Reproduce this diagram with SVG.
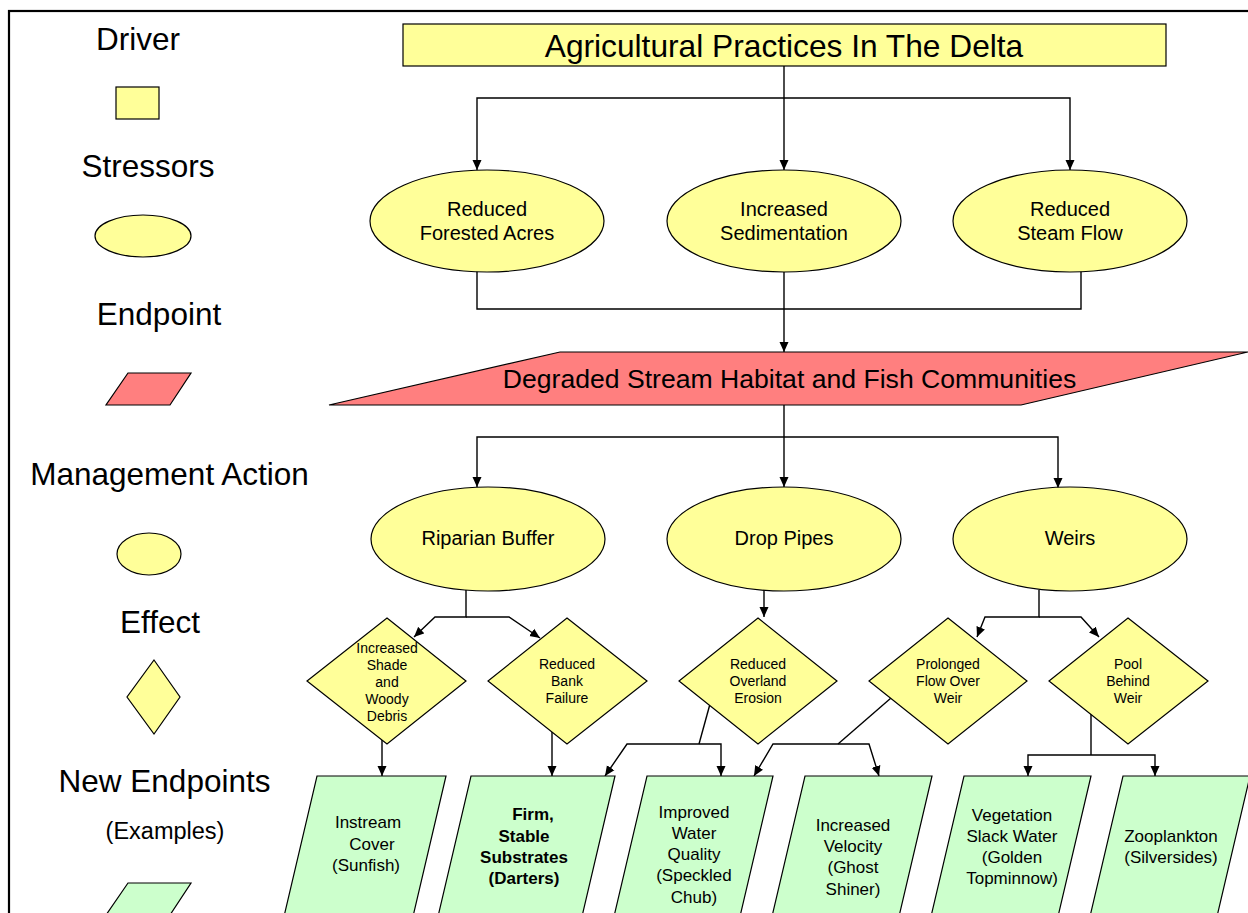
<svg xmlns="http://www.w3.org/2000/svg" width="1248" height="913" viewBox="0 0 1248 913">
<style>
text{font-family:"Liberation Sans",Arial,sans-serif;fill:#000;text-anchor:middle}
.drv{fill:#FFFF99;stroke:#000;stroke-width:1.2}
.str{fill:#FFFF99;stroke:#000;stroke-width:1.2}
.ep{fill:#FF7F7F;stroke:#000;stroke-width:1.2}
.ef{fill:#FFFF99;stroke:#000;stroke-width:1.2}
.ne{fill:#CCFFCC;stroke:#000;stroke-width:1.2}
.leg{font-size:31.5px}
.t20{font-size:20px}
.t14{font-size:14px}
.t17{font-size:17px}
.b{font-weight:bold}
#connectors polyline,#connectors line{fill:none;stroke:#000;stroke-width:1.4}
</style>
<defs>
<marker id="ah" markerWidth="11" markerHeight="10" refX="10" refY="5" orient="auto" markerUnits="userSpaceOnUse">
<path d="M0,0.5 L10,5 L0,9.5 z" fill="#000"/>
</marker>
</defs>
<rect x="0" y="0" width="1248" height="913" fill="#fff"/>
<rect id="frame" x="9" y="11" width="1260" height="920" fill="none" stroke="#000" stroke-width="2.2"/>

<g id="legend">
<text class="leg" x="138" y="50">Driver</text>
<rect class="drv" x="116" y="87" width="43" height="32"/>
<text class="leg" x="148" y="177">Stressors</text>
<ellipse class="str" cx="143" cy="236" rx="48" ry="21"/>
<text class="leg" x="159" y="325">Endpoint</text>
<polygon class="ep" points="128,373 191,373 170,405 106,405"/>
<text class="leg" x="169.5" y="485">Management Action</text>
<ellipse class="str" cx="149" cy="554" rx="32" ry="21"/>
<text class="leg" x="160" y="633">Effect</text>
<polygon class="ef" points="154,660 180,697 154,734 127,697"/>
<text class="leg" x="164.5" y="792">New Endpoints</text>
<text x="165" y="839" style="font-size:23.5px">(Examples)</text>
<polygon class="ne" points="128,883 191,883 170,915 106,915"/>
</g>

<g id="connectors">
<line x1="784" y1="66" x2="784" y2="170" marker-end="url(#ah)"/>
<polyline points="784,98 477,98 477,170" marker-end="url(#ah)"/>
<polyline points="784,98 1070,98 1070,170" marker-end="url(#ah)"/>
<polyline points="477,268 477,309 1081,309 1081,268"/>
<line x1="784" y1="272" x2="784" y2="352" marker-end="url(#ah)"/>
<line x1="784" y1="405" x2="784" y2="487" marker-end="url(#ah)"/>
<polyline points="784,437 477,437 477,487" marker-end="url(#ah)"/>
<polyline points="784,437 1058,437 1058,488" marker-end="url(#ah)"/>
<polyline points="466,590 466,617 435,617 414,637" marker-end="url(#ah)"/>
<polyline points="466,617 509,617 540,638" marker-end="url(#ah)"/>
<line x1="764" y1="590" x2="764" y2="617" marker-end="url(#ah)"/>
<polyline points="1039,590 1039,617 985,617 977,637" marker-end="url(#ah)"/>
<polyline points="1039,617 1081,617 1099,637" marker-end="url(#ah)"/>
<line x1="382" y1="740" x2="382" y2="776" marker-end="url(#ah)"/>
<line x1="552" y1="732" x2="552" y2="776" marker-end="url(#ah)"/>
<line x1="710" y1="704" x2="699" y2="744"/>
<polyline points="699,744 627,744 605,776" marker-end="url(#ah)"/>
<polyline points="699,744 721,744 721,776" marker-end="url(#ah)"/>
<line x1="891" y1="698" x2="838" y2="744"/>
<polyline points="838,744 773,744 754,776" marker-end="url(#ah)"/>
<polyline points="838,744 869,744 879,776" marker-end="url(#ah)"/>
<line x1="1091" y1="714" x2="1091" y2="755"/>
<polyline points="1091,755 1028,755 1028,776" marker-end="url(#ah)"/>
<polyline points="1091,755 1155,755 1155,776" marker-end="url(#ah)"/>
</g>

<g id="driver">
<rect class="drv" x="403" y="24" width="763" height="42"/>
<text x="784" y="57" style="font-size:31.7px">Agricultural Practices In The Delta</text>
</g>

<g id="stressor-forest">
<ellipse class="str" cx="487" cy="221" rx="117" ry="51"/>
<text class="t20" x="487" y="216">Reduced</text>
<text class="t20" x="487" y="240">Forested Acres</text>
</g>
<g id="stressor-sediment">
<ellipse class="str" cx="784" cy="221" rx="117" ry="51"/>
<text class="t20" x="784" y="216">Increased</text>
<text class="t20" x="784" y="240">Sedimentation</text>
</g>
<g id="stressor-flow">
<ellipse class="str" cx="1070" cy="221" rx="117" ry="51"/>
<text class="t20" x="1070" y="216">Reduced</text>
<text class="t20" x="1070" y="240">Steam Flow</text>
</g>

<g id="endpoint">
<polygon class="ep" points="560,352 1248,352 1021,405 329,405"/>
<text x="789.5" y="388" style="font-size:26.6px">Degraded Stream Habitat and Fish Communities</text>
</g>

<g id="action-riparian">
<ellipse class="str" cx="488" cy="539" rx="117" ry="52"/>
<text class="t20" x="488" y="545">Riparian Buffer</text>
</g>
<g id="action-droppipes">
<ellipse class="str" cx="784" cy="539" rx="117" ry="52"/>
<text class="t20" x="784" y="545">Drop Pipes</text>
</g>
<g id="action-weirs">
<ellipse class="str" cx="1070" cy="539" rx="117" ry="52"/>
<text class="t20" x="1070" y="545">Weirs</text>
</g>

<g id="effect-shade">
<polygon class="ef" points="387,618 466,681 387,744 307,681"/>
<text class="t14" x="387" y="653">Increased</text>
<text class="t14" x="387" y="670">Shade</text>
<text class="t14" x="387" y="687">and</text>
<text class="t14" x="387" y="704">Woody</text>
<text class="t14" x="387" y="721">Debris</text>
</g>
<g id="effect-bank">
<polygon class="ef" points="567,618 647,681 567,744 488,681"/>
<text class="t14" x="567" y="669">Reduced</text>
<text class="t14" x="567" y="686">Bank</text>
<text class="t14" x="567" y="703">Failure</text>
</g>
<g id="effect-erosion">
<polygon class="ef" points="758,618 837,681 758,744 679,681"/>
<text class="t14" x="758" y="669">Reduced</text>
<text class="t14" x="758" y="686">Overland</text>
<text class="t14" x="758" y="703">Erosion</text>
</g>
<g id="effect-flow">
<polygon class="ef" points="948,618 1027,681 948,744 869,681"/>
<text class="t14" x="948" y="669">Prolonged</text>
<text class="t14" x="948" y="686">Flow Over</text>
<text class="t14" x="948" y="703">Weir</text>
</g>
<g id="effect-pool">
<polygon class="ef" points="1128,618 1208,681 1128,744 1049,681"/>
<text class="t14" x="1128" y="669">Pool</text>
<text class="t14" x="1128" y="686">Behind</text>
<text class="t14" x="1128" y="703">Weir</text>
</g>

<g id="new-instream">
<polygon class="ne" points="317,776 446,776 411,925 282,925"/>
<text class="t17" x="368" y="828">Instream</text>
<text class="t17" x="372" y="850">Cover</text>
<text class="t17" x="366" y="871">(Sunfish)</text>
</g>
<g id="new-substrates">
<polygon class="ne" points="471,776 615,776 580,925 436,925"/>
<text class="t17 b" x="533" y="820">Firm,</text>
<text class="t17 b" x="524" y="842">Stable</text>
<text class="t17 b" x="524" y="863">Substrates</text>
<text class="t17 b" x="524" y="884">(Darters)</text>
</g>
<g id="new-water">
<polygon class="ne" points="647,776 773,776 738,925 612,925"/>
<text class="t17" x="694" y="818">Improved</text>
<text class="t17" x="694" y="839">Water</text>
<text class="t17" x="694" y="860">Quality</text>
<text class="t17" x="694" y="881">(Speckled</text>
<text class="t17" x="694" y="903">Chub)</text>
</g>
<g id="new-velocity">
<polygon class="ne" points="805,776 932,776 897,925 770,925"/>
<text class="t17" x="853" y="831">Increased</text>
<text class="t17" x="853" y="852">Velocity</text>
<text class="t17" x="853" y="873">(Ghost</text>
<text class="t17" x="853" y="895">Shiner)</text>
</g>
<g id="new-vegetation">
<polygon class="ne" points="964,776 1091,776 1056,925 929,925"/>
<text class="t17" x="1012" y="821">Vegetation</text>
<text class="t17" x="1012" y="842">Slack Water</text>
<text class="t17" x="1012" y="863">(Golden</text>
<text class="t17" x="1012" y="884">Topminnow)</text>
</g>
<g id="new-zooplankton">
<polygon class="ne" points="1123,776 1250,776 1215,925 1088,925"/>
<text class="t17" x="1171" y="842">Zooplankton</text>
<text class="t17" x="1171" y="863">(Silversides)</text>
</g>
</svg>
